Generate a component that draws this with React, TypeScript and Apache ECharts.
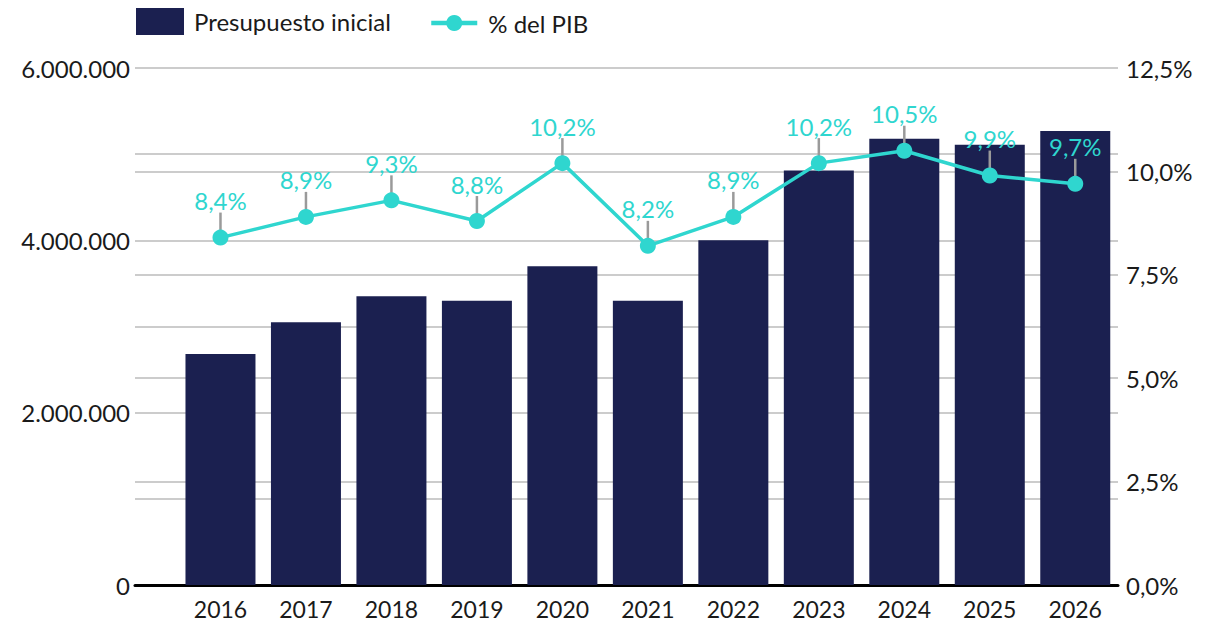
import React, { useEffect, useRef } from "react";
import * as echarts from "echarts";

const years = [2016, 2017, 2018, 2019, 2020, 2021, 2022, 2023, 2024, 2025, 2026];
const budget = [2680000, 3050000, 3350000, 3300000, 3700000, 3300000, 4000000, 4810000, 5180000, 5110000, 5270000];
const pib = [8.4, 8.9, 9.3, 8.8, 10.2, 8.2, 8.9, 10.2, 10.5, 9.9, 9.7];
const leftTicks = [0, 2000000, 4000000, 6000000];

const BAR = "#1b2050";
const LINE = "#2fd6cf";
const FONT = "Lato, 'Open Sans', sans-serif";
const TXT = "#1a1a1a";

const fmtThousands = (v: number) => String(Math.round(v)).replace(/\B(?=(\d{3})+(?!\d))/g, ".");

export default function App() {
  const ref = useRef<HTMLDivElement>(null);
  useEffect(() => {
    const chart = echarts.init(ref.current!, null, { renderer: "svg" });
    chart.setOption({
      animation: false,
      textStyle: { fontFamily: FONT },
      legend: [
        {
          left: 136,
          top: 8,
          padding: 0,
          itemWidth: 48,
          itemHeight: 27,
          textStyle: { fontSize: 24, color: TXT, fontFamily: FONT, padding: [0, 0, 0, 5] },
          data: [{ name: "Presupuesto inicial", icon: "rect" }],
        },
        {
          left: 429,
          top: 11,
          padding: 0,
          itemWidth: 46,
          itemHeight: 20,
          textStyle: { fontSize: 24, color: TXT, fontFamily: FONT, padding: [0, 0, 0, 6] },
          data: [{ name: "% del PIB", lineStyle: { width: 4.5 } }],
        },
      ],
      grid: { left: 135, right: 100, top: 68, bottom: 41, containLabel: false },
      xAxis: {
        type: "value",
        min: 2015,
        max: 2026.5,
        interval: 1,
        splitLine: { show: false },
        axisTick: { show: false },
        axisLine: { show: true, lineStyle: { color: "#000", width: 3 } },
        axisLabel: {
          fontSize: 23,
          color: TXT,
          margin: 12,
          formatter: (v: number) => (Number.isInteger(v) && v >= 2016 ? String(v) : ""),
        },
      },
      yAxis: [
        {
          type: "value",
          min: 0,
          max: 6000000,
          interval: 1000000,
          axisLine: { show: false },
          axisTick: { show: false },
          splitLine: { show: true, lineStyle: { color: "#cccccc", width: 2 } },
          axisLabel: {
            fontSize: 24,
            color: TXT,
            margin: 5,
            formatter: (v: number) => (leftTicks.includes(v) ? fmtThousands(v) : ""),
          },
        },
        {
          type: "value",
          min: 0,
          max: 12.5,
          interval: 2.5,
          axisLine: { show: false },
          axisTick: { show: false },
          splitLine: { show: true, lineStyle: { color: "#cccccc", width: 2 } },
          axisLabel: {
            fontSize: 24,
            color: TXT,
            margin: 8,
            formatter: (v: number) => v.toFixed(1).replace(".", ",") + "%",
          },
        },
      ],
      series: [
        {
          name: "Presupuesto inicial",
          type: "bar",
          yAxisIndex: 0,
          barWidth: 70,
          itemStyle: { color: BAR },
          data: years.map((y, i) => [y, budget[i]]),
          z: 2,
        },
        {
          name: "ticks",
          type: "custom",
          yAxisIndex: 1,
          z: 3,
          silent: true,
          data: years.map((y, i) => [y, pib[i]]),
          renderItem: (params: any, api: any) => {
            const p = api.coord([api.value(0), api.value(1)]);
            return {
              type: "line",
              shape: { x1: p[0], y1: p[1] - 6, x2: p[0], y2: p[1] - 25 },
              style: { stroke: "#9a9a9a", lineWidth: 2.5 },
            };
          },
        },
        {
          name: "% del PIB",
          type: "line",
          yAxisIndex: 1,
          z: 4,
          symbol: "circle",
          symbolSize: 16,
          lineStyle: { color: LINE, width: 3.5 },
          itemStyle: { color: LINE },
          label: {
            show: true,
            position: "top",
            distance: 17,
            fontSize: 24,
            color: LINE,
            fontFamily: FONT,
            formatter: (p: any) => p.value[1].toFixed(1).replace(".", ",") + "%",
          },
          data: years.map((y, i) => [y, pib[i]]),
        },
      ],
    });
    return () => chart.dispose();
  }, []);
  return (
    <div
      ref={ref}
      style={{ position: "absolute", left: 0, top: 0, width: 1218, height: 626 }}
    />
  );
}
